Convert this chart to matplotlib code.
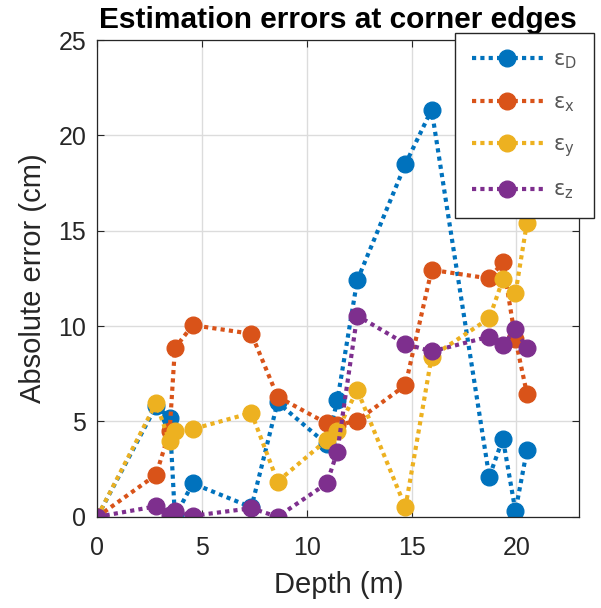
import matplotlib
matplotlib.use('Agg')
import matplotlib.pyplot as plt

plt.rcParams['font.family'] = ['Liberation Sans', 'DejaVu Sans']
plt.rcParams['mathtext.fontset'] = 'dejavusans'
plt.rcParams['mathtext.default'] = 'regular'

# depth of each measurement (m)
depth = [0, 2.8, 3.45, 3.7, 4.55, 7.35, 8.6, 10.95, 11.45, 12.4,
         14.7, 15.95, 18.7, 19.35, 19.95, 20.5]

# absolute errors (cm)
err_D = [0, 5.8, 5.2, 0.0, 1.75, 0.5, 6.0, 3.8, 6.1, 12.4,
         18.5, 21.35, 2.1, 4.1, 0.3, 3.5]
err_x = [0, 2.2, 4.5, 8.85, 10.05, 9.6, 6.3, 4.9, 4.8, 5.05,
         6.9, 12.95, 12.5, 13.35, 9.3, 6.45]
err_y = [0, 5.96, 3.95, 4.5, 4.6, 5.45, 1.85, 4.03, 4.5, 6.66,
         0.5, 8.4, 10.41, 12.45, 11.72, 15.43]
err_z = [0, 0.55, 0.1, 0.3, 0.05, 0.45, 0.0, 1.75, 3.42, 10.55,
         9.07, 8.67, 9.45, 9.0, 9.83, 8.84]

labels = [r'$\epsilon_D$', r'$\epsilon_x$', r'$\epsilon_y$', r'$\epsilon_z$']
colors = ['#0072BD', '#D95319', '#EDB120', '#7E2F8E']

fig = plt.figure(figsize=(6.01, 6.08), dpi=100)
ax = fig.add_axes([0.162, 0.150, 0.802, 0.784])

for ys, lab, c in zip([err_D, err_x, err_y, err_z], labels, colors):
    ax.plot(depth, ys, linestyle=(0, (1, 1)), linewidth=3, color=c,
            marker='o', markersize=12, label=lab)

ax.set_xlim(0, 23)
ax.set_ylim(0, 25)
ax.set_xticks([0, 5, 10, 15, 20])
ax.set_yticks([0, 5, 10, 15, 20, 25])
ax.grid(True, color='#dcdcdc', linewidth=1)
ax.set_axisbelow(True)
ax.tick_params(direction='in', top=True, right=True, labelsize=18,
               colors='#262626', length=5)
ax.tick_params(axis='x', pad=14)
ax.tick_params(axis='y', pad=8)
for s in ax.spines.values():
    s.set_color('#262626')
    s.set_linewidth(0.9)

ax.set_xlabel('Depth (m)', fontsize=21, color='#262626', labelpad=8)
ax.set_ylabel('Absolute error (cm)', fontsize=21, color='#262626', labelpad=8)
ax.set_title('Estimation errors at corner edges', fontsize=21.5,
             fontweight='bold', pad=9)

leg = fig.legend(loc='upper right', bbox_to_anchor=(0.988, 0.946),
                 prop={'family': 'DejaVu Sans', 'size': 15},
                 labelspacing=1.0, handlelength=3.4, handletextpad=0.5,
                 borderpad=0.8, borderaxespad=0, fancybox=False,
                 framealpha=1, edgecolor='#262626', labelcolor='#555555')
leg.get_frame().set_linewidth(1)

fig.savefig('out.png', dpi=100)
